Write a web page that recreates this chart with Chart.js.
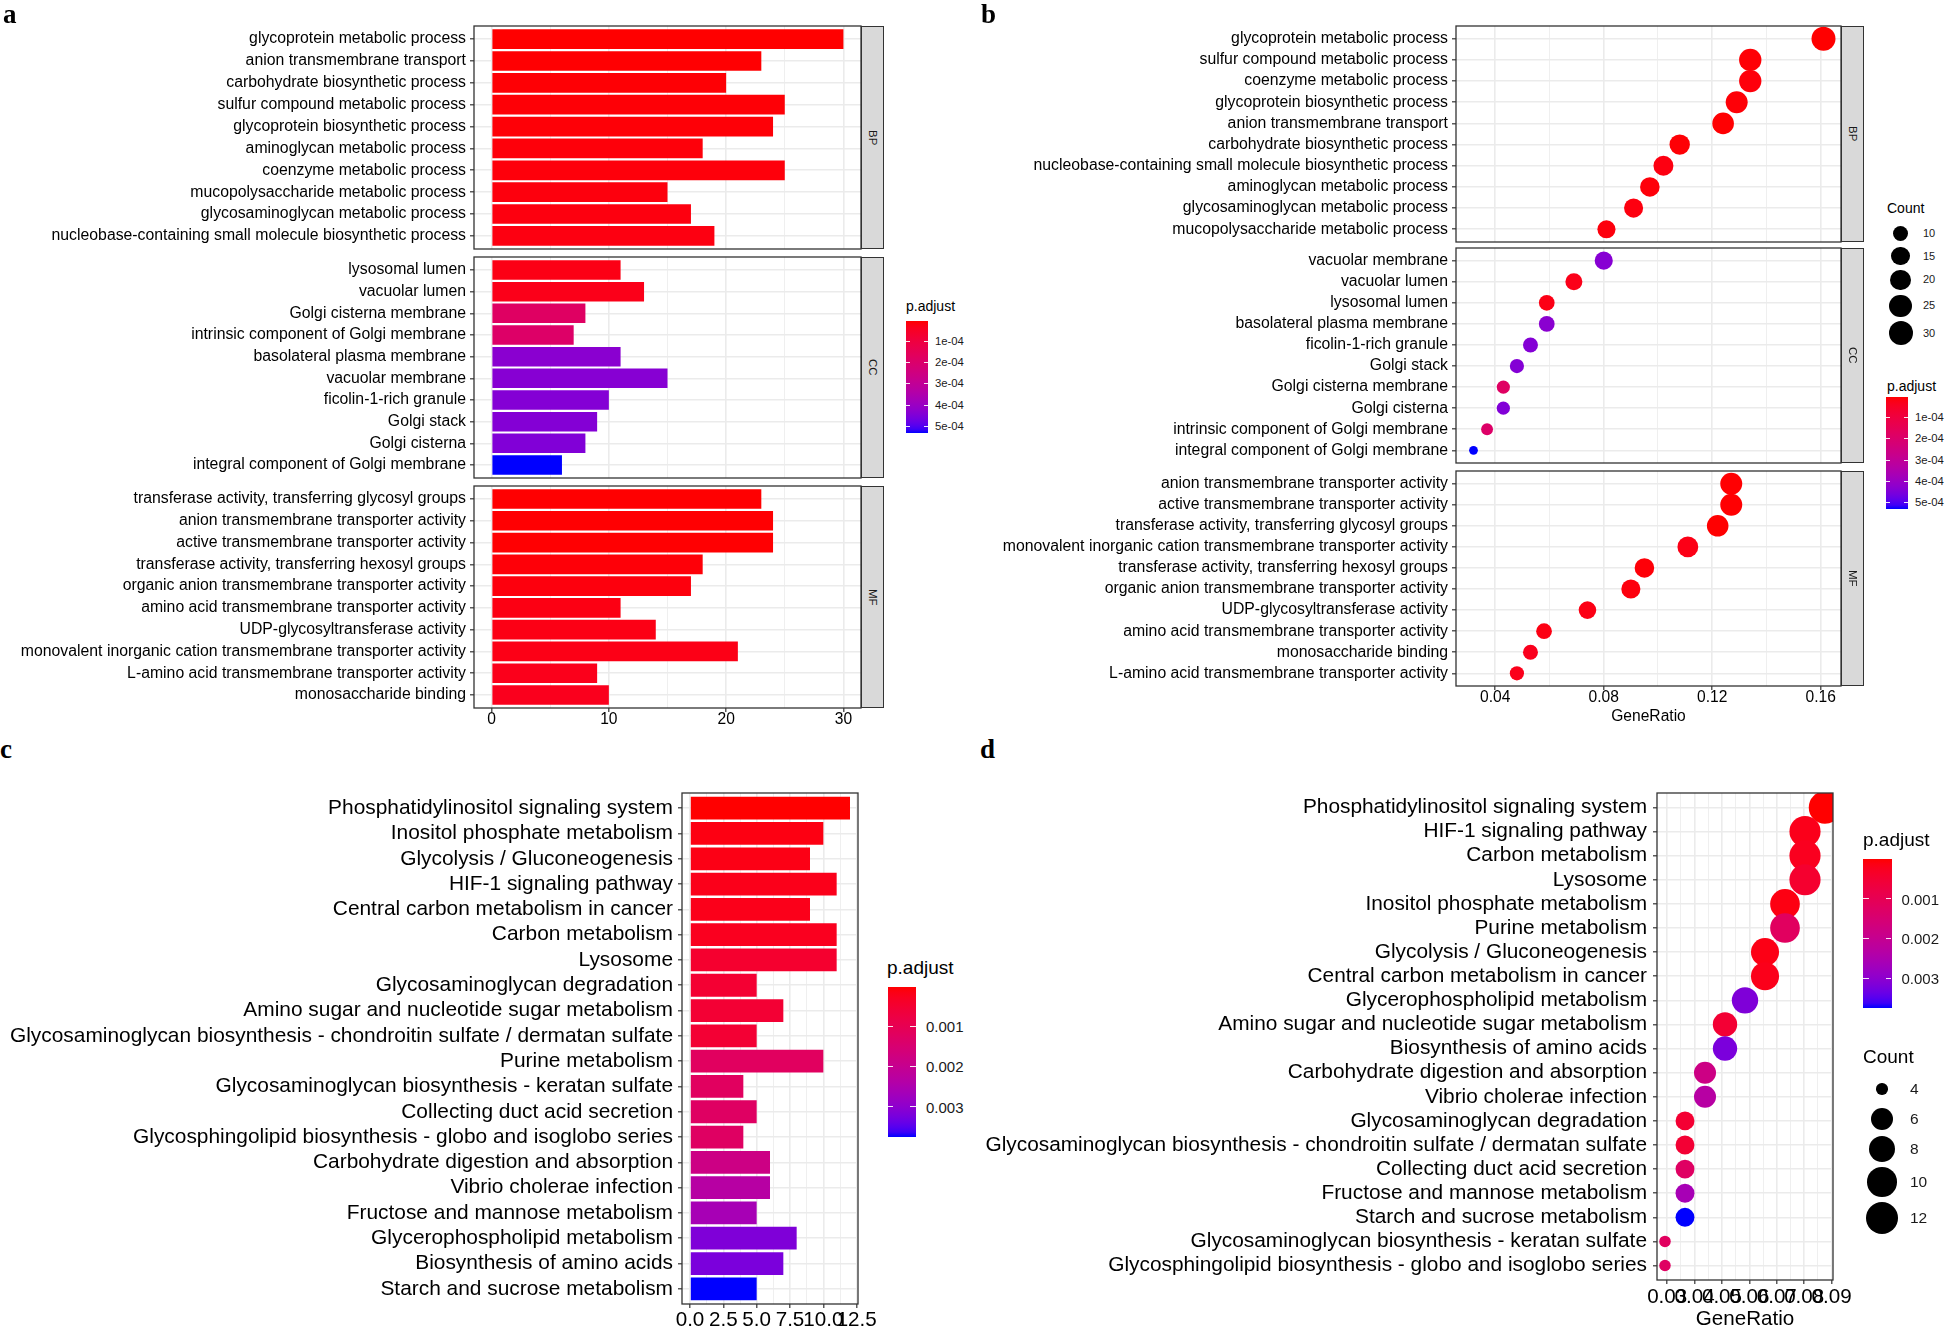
<!DOCTYPE html>
<html><head><meta charset="utf-8">
<script src="https://cdn.jsdelivr.net/npm/chart.js"></script>
<style>
html,body{margin:0;padding:0;background:#fff;width:1946px;height:1330px;overflow:hidden;}
canvas{position:absolute;}
.strip{position:absolute;background:#d9d9d9;border:1.3px solid #333;box-sizing:border-box;display:flex;align-items:center;justify-content:center;}
.strip span{writing-mode:vertical-rl;font-size:11.5px;color:#1a1a1a;font-family:"Liberation Sans",Arial,sans-serif;}
</style></head><body>
<script>
// ---------------- DATA ----------------
// Panel a: GO enrichment barplot (Count), facets BP / CC / MF
const aBPTerms = ["glycoprotein metabolic process","anion transmembrane transport","carbohydrate biosynthetic process","sulfur compound metabolic process","glycoprotein biosynthetic process","aminoglycan metabolic process","coenzyme metabolic process","mucopolysaccharide metabolic process","glycosaminoglycan metabolic process","nucleobase-containing small molecule biosynthetic process"];
const aBPCount = [30,23,20,25,24,18,25,15,17,19];
const aBPPadj  = [5e-6,7e-6,9e-6,1.0e-5,1.1e-5,1.3e-5,1.4e-5,1.6e-5,1.8e-5,2.0e-5];
const aCCTerms = ["lysosomal lumen","vacuolar lumen","Golgi cisterna membrane","intrinsic component of Golgi membrane","basolateral plasma membrane","vacuolar membrane","ficolin-1-rich granule","Golgi stack","Golgi cisterna","integral component of Golgi membrane"];
const aCCCount = [11,13,8,7,11,15,10,9,8,6];
const aCCPadj  = [2.5e-5,3.0e-5,1.8e-4,1.9e-4,4.3e-4,4.35e-4,4.4e-4,4.4e-4,4.45e-4,5.31e-4];
const aMFTerms = ["transferase activity, transferring glycosyl groups","anion transmembrane transporter activity","active transmembrane transporter activity","transferase activity, transferring hexosyl groups","organic anion transmembrane transporter activity","amino acid transmembrane transporter activity","UDP-glycosyltransferase activity","monovalent inorganic cation transmembrane transporter activity","L-amino acid transmembrane transporter activity","monosaccharide binding"];
const aMFCount = [23,24,24,18,17,11,14,21,9,10];
const aMFPadj  = [6e-6,7e-6,7e-6,1.2e-5,1.6e-5,2.2e-5,2.4e-5,2.6e-5,3.2e-5,3.6e-5];
const aXTicks = [0,10,20,30];
const aXTickLabels = ["0","10","20","30"];
const aXMinor = [5,15,25];

// Panel b: GO dotplot (GeneRatio)
const bBPTerms = ["glycoprotein metabolic process","sulfur compound metabolic process","coenzyme metabolic process","glycoprotein biosynthetic process","anion transmembrane transport","carbohydrate biosynthetic process","nucleobase-containing small molecule biosynthetic process","aminoglycan metabolic process","glycosaminoglycan metabolic process","mucopolysaccharide metabolic process"];
const bBPRatio = [0.161,0.134,0.134,0.129,0.124,0.108,0.102,0.097,0.091,0.081];
const bBPCount = [30,25,25,24,23,20,19,18,17,15];
const bBPPadj  = [5e-6,1.0e-5,1.4e-5,1.1e-5,7e-6,9e-6,2.0e-5,1.3e-5,1.8e-5,1.6e-5];
const bCCTerms = ["vacuolar membrane","vacuolar lumen","lysosomal lumen","basolateral plasma membrane","ficolin-1-rich granule","Golgi stack","Golgi cisterna membrane","Golgi cisterna","intrinsic component of Golgi membrane","integral component of Golgi membrane"];
const bCCRatio = [0.080,0.069,0.059,0.059,0.053,0.048,0.043,0.043,0.037,0.032];
const bCCCount = [15,13,11,11,10,9,8,8,7,6];
const bCCPadj  = [4.35e-4,3.0e-5,2.5e-5,4.3e-4,4.4e-4,4.4e-4,1.8e-4,4.45e-4,1.9e-4,5.31e-4];
const bMFTerms = ["anion transmembrane transporter activity","active transmembrane transporter activity","transferase activity, transferring glycosyl groups","monovalent inorganic cation transmembrane transporter activity","transferase activity, transferring hexosyl groups","organic anion transmembrane transporter activity","UDP-glycosyltransferase activity","amino acid transmembrane transporter activity","monosaccharide binding","L-amino acid transmembrane transporter activity"];
const bMFRatio = [0.127,0.127,0.122,0.111,0.095,0.090,0.074,0.058,0.053,0.048];
const bMFCount = [24,24,23,21,18,17,14,11,10,9];
const bMFPadj  = [7e-6,7e-6,6e-6,2.6e-5,1.2e-5,1.6e-5,2.4e-5,2.2e-5,3.6e-5,3.2e-5];
const bXTicks = [0.04,0.08,0.12,0.16];
const bXTickLabels = ["0.04","0.08","0.12","0.16"];
const bXMinor = [0.06,0.10,0.14];
const bCountBreaks = [10,15,20,25,30];

// Shared p.adjust legend for a and b
const abPadjTicks = [1e-4,2e-4,3e-4,4e-4,5e-4];
const abPadjLabels = ["1e-04","2e-04","3e-04","4e-04","5e-04"];

// Panel c: KEGG barplot (Count)
const cTerms = ["Phosphatidylinositol signaling system","Inositol phosphate metabolism","Glycolysis / Gluconeogenesis","HIF-1 signaling pathway","Central carbon metabolism in cancer","Carbon metabolism","Lysosome","Glycosaminoglycan degradation","Amino sugar and nucleotide sugar metabolism","Glycosaminoglycan biosynthesis - chondroitin sulfate / dermatan sulfate","Purine metabolism","Glycosaminoglycan biosynthesis - keratan sulfate","Collecting duct acid secretion","Glycosphingolipid biosynthesis - globo and isoglobo series","Carbohydrate digestion and absorption","Vibrio cholerae infection","Fructose and mannose metabolism","Glycerophospholipid metabolism","Biosynthesis of amino acids","Starch and sucrose metabolism"];
const cCount = [12,10,9,11,9,11,11,5,7,5,10,4,5,4,6,6,5,8,7,5];
const cPadj  = [1e-5,1.2e-4,1.5e-4,2.0e-4,2.0e-4,2.5e-4,4.5e-4,5.0e-4,5.2e-4,5.2e-4,1.2e-3,1.2e-3,1.25e-3,1.25e-3,1.8e-3,2.3e-3,2.6e-3,3.15e-3,3.2e-3,3.74e-3];
const cXTicks = [0,2.5,5,7.5,10,12.5];
const cXTickLabels = ["0.0","2.5","5.0","7.5","10.0","12.5"];
const cXMinor = [1.25,3.75,6.25,8.75,11.25];

// Panel d: KEGG dotplot (GeneRatio)
const dTerms = ["Phosphatidylinositol signaling system","HIF-1 signaling pathway","Carbon metabolism","Lysosome","Inositol phosphate metabolism","Purine metabolism","Glycolysis / Gluconeogenesis","Central carbon metabolism in cancer","Glycerophospholipid metabolism","Amino sugar and nucleotide sugar metabolism","Biosynthesis of amino acids","Carbohydrate digestion and absorption","Vibrio cholerae infection","Glycosaminoglycan degradation","Glycosaminoglycan biosynthesis - chondroitin sulfate / dermatan sulfate","Collecting duct acid secretion","Fructose and mannose metabolism","Starch and sucrose metabolism","Glycosaminoglycan biosynthesis - keratan sulfate","Glycosphingolipid biosynthesis - globo and isoglobo series"];
const dRatio = [0.0876,0.0803,0.0803,0.0803,0.0730,0.0730,0.0657,0.0657,0.0584,0.0511,0.0511,0.0438,0.0438,0.0365,0.0365,0.0365,0.0365,0.0365,0.0292,0.0292];
const dCount = [12,11,11,11,10,10,9,9,8,7,7,6,6,5,5,5,5,5,4,4];
const dPadj  = [1e-5,2.0e-4,2.5e-4,4.5e-4,1.2e-4,1.2e-3,1.5e-4,2.0e-4,3.15e-3,5.2e-4,3.2e-3,1.8e-3,2.3e-3,5.0e-4,5.2e-4,1.25e-3,2.6e-3,3.74e-3,1.2e-3,1.25e-3];
const dXTicks = [0.03,0.04,0.05,0.06,0.07,0.08,0.09];
const dXTickLabels = ["0.03","0.04","0.05","0.06","0.07","0.08","0.09"];
const dXMinor = [0.035,0.045,0.055,0.065,0.075,0.085];
const dCountBreaks = [4,6,8,10,12];

const cdPadjTicks = [0.001,0.002,0.003];
const cdPadjLabels = ["0.001","0.002","0.003"];

// ---------------- HELPERS ----------------
const FONT = '"Liberation Sans", Arial, Helvetica, sans-serif';
function s2l(c){c/=255;return c<=0.04045?c/12.92:Math.pow((c+0.055)/1.055,2.4);}
function l2s(c){c=Math.max(0,Math.min(1,c));return Math.round(255*(c<=0.0031308?12.92*c:1.055*Math.pow(c,1/2.4)-0.055));}
function rgbToLab(rgb){
  const [R,G,B]=rgb.map(s2l);
  const X=(0.4124*R+0.3576*G+0.1805*B)/0.95047, Y=0.2126*R+0.7152*G+0.0722*B, Z=(0.0193*R+0.1192*G+0.9505*B)/1.08883;
  const f=t=>t>0.008856?Math.cbrt(t):7.787*t+16/116;
  return [116*f(Y)-16,500*(f(X)-f(Y)),200*(f(Y)-f(Z))];
}
function labToRgb([L,a,b]){
  const fy=(L+16)/116, fx=fy+a/500, fz=fy-b/200;
  const fi=t=>{const t3=t*t*t;return t3>0.008856?t3:(t-16/116)/7.787;};
  const X=0.95047*fi(fx), Y=fi(fy), Z=1.08883*fi(fz);
  const R=3.2406*X-1.5372*Y-0.4986*Z, G=-0.9689*X+1.8758*Y+0.0415*Z, B=0.0557*X-0.2040*Y+1.0570*Z;
  return `rgb(${l2s(R)},${l2s(G)},${l2s(B)})`;
}
const LAB_LOW = rgbToLab([255,0,0]), LAB_HIGH = rgbToLab([0,0,255]);
function gradColor(t){t=Math.max(0,Math.min(1,t));return labToRgb([0,1,2].map(k=>LAB_LOW[k]+(LAB_HIGH[k]-LAB_LOW[k])*t));}
function padjColors(ps, lo, hi){return ps.map(p=>gradColor((p-lo)/(hi-lo)));}
function sizeMap(counts, cmin, cmax, dmin, dmax){return counts.map(c=>(dmin+(dmax-dmin)*Math.sqrt((c-cmin)/(cmax-cmin)))/2);}
function expand(lo, hi){const s=hi-lo;return [lo-0.05*s, hi+0.05*s];}

function el(css, text){const d=document.createElement('div');d.style.cssText='position:absolute;'+css;if(text!==undefined)d.textContent=text;document.body.appendChild(d);return d;}
function txt(str,x,baseline,fs,color){return el(`left:${x}px;top:${baseline-0.8465*fs}px;font-size:${fs}px;line-height:1;white-space:nowrap;font-family:${FONT};color:${color||'#000'};`,str);}
function letter(str,x,baseline){return el(`left:${x}px;top:${baseline-0.8375*27}px;font-size:27px;line-height:1;font-weight:bold;font-family:"Liberation Serif","Times New Roman",serif;color:#000;`,str);}
function strip(label,x,t,b){const d=el(`left:${x}px;top:${t}px;width:23px;height:${b-t}px;`);d.className='strip';const s=document.createElement('span');s.textContent=label;d.appendChild(s);}
function colorbar(x,y,w,h,lo,hi,ticks,labels,fs,gap){
  const stops=[];for(let k=0;k<=30;k++)stops.push(`${gradColor(k/30)} ${(k/30*100).toFixed(2)}%`);
  el(`left:${x}px;top:${y}px;width:${w}px;height:${h}px;background:linear-gradient(to bottom,${stops.join(',')});`);
  ticks.forEach((v,i)=>{const ty=y+(v-lo)/(hi-lo)*h;
    el(`left:${x}px;top:${ty-0.5}px;width:${w/5}px;height:1px;background:rgba(255,255,255,0.9);`);
    el(`left:${x+w-w/5}px;top:${ty-0.5}px;width:${w/5}px;height:1px;background:rgba(255,255,255,0.9);`);
    txt(labels[i],x+w+gap,ty+0.358*fs,fs,'#1a1a1a');});
}
function sizeLegend(breaks,radii,cx,firstC,minH,extra,labelX,fs){
  const h=radii.map(r=>Math.max(minH,2*r+extra));let c=firstC;
  breaks.forEach((v,i)=>{ if(i>0)c+= (h[i-1]+h[i])/2; const r=radii[i];
    el(`left:${cx-r}px;top:${c-r}px;width:${2*r}px;height:${2*r}px;border-radius:50%;background:#000;`);
    txt(String(v),labelX,c+0.358*fs,fs,'#1a1a1a');});
}

const borderPlugin={id:'panelBorder',afterDatasetsDraw(chart){const {ctx,chartArea:a}=chart;ctx.save();ctx.strokeStyle='#333';ctx.lineWidth=1.3;ctx.strokeRect(a.left,a.top,a.right-a.left,a.bottom-a.top);ctx.restore();}};

function makePanel(cfg){
  const cv=document.createElement('canvas');cv.width=cfg.cw;cv.height=cfg.ch;
  cv.style.left=cfg.cx+'px';cv.style.top=cfg.cy+'px';document.body.appendChild(cv);
  const n=cfg.terms.length, isBar=cfg.kind==='bar';
  const data=cfg.terms.map((_,i)=>isBar?{x:cfg.vals[i],y:i}:{x:cfg.vals[i],y:i,r:cfg.radii[i]});
  const near=(a,b)=>Math.abs(a-b)<1e-9;
  const majorIdx=v=>cfg.major.findIndex(m=>near(m,v));
  const allX=cfg.major.concat(cfg.minor);
  const isMaj=c=>c&&c.tick?majorIdx(c.tick.value)>=0:false;
  return new Chart(cv,{
    type:isBar?'bar':'bubble',
    data:{datasets:[{data,backgroundColor:cfg.colors,borderWidth:0,clip:0,barPercentage:0.9,categoryPercentage:1}]},
    options:{
      indexAxis:isBar?'y':'x',responsive:false,maintainAspectRatio:false,animation:false,devicePixelRatio:1,events:[],
      layout:{autoPadding:false,padding:{left:0,top:cfg.t-cfg.cy,right:cfg.cx+cfg.cw-cfg.r,bottom:0}},
      plugins:{legend:{display:false},tooltip:{enabled:false},title:{display:false}},
      scales:{
        x:{type:'linear',position:'bottom',min:cfg.xRange[0],max:cfg.xRange[1],offset:false,
          afterBuildTicks:s=>{s.ticks=allX.map(v=>({value:v}));},
          afterFit:s=>{s.height=cfg.cy+cfg.ch-cfg.b;s.paddingLeft=0;s.paddingRight=0;},
          border:{display:false},
          grid:{color:'#ebebeb',lineWidth:c=>isMaj(c)?1.6:0.8,drawTicks:!!cfg.showX,tickLength:4,tickWidth:1.2,tickColor:c=>isMaj(c)?'#333':'rgba(0,0,0,0)'},
          ticks:{display:!!cfg.showX,autoSkip:false,maxRotation:0,minRotation:0,padding:cfg.xPad||0,color:'#000',font:{family:FONT,size:cfg.xfs||cfg.fs,lineHeight:1},
            callback:v=>{const k=majorIdx(v);return k>=0?cfg.majorLabels[k]:'';}},
          title:cfg.xTitle?{display:true,text:cfg.xTitle,color:'#000',font:{family:FONT,size:cfg.xfs||cfg.fs,lineHeight:1},padding:0}:{display:false}
        },
        y:{type:'linear',position:'left',reverse:true,min:-0.6,max:n-0.4,offset:false,
          afterBuildTicks:s=>{s.ticks=cfg.terms.map((_,i)=>({value:i}));},
          afterFit:s=>{s.width=cfg.l-cfg.cx;s.paddingTop=0;s.paddingBottom=0;},
          border:{display:false},
          grid:{offset:false,color:'#ebebeb',lineWidth:1.6,drawTicks:true,tickLength:4,tickWidth:1.2,tickColor:'#333'},
          ticks:{autoSkip:false,padding:cfg.yPad,color:'#000',font:{family:FONT,size:cfg.fs,lineHeight:1.1},callback:v=>cfg.terms[v]}
        }
      }
    },
    plugins:[borderPlugin]
  });
}

// ---------------- BUILD ----------------
const abAllP=[...aBPPadj,...aCCPadj,...aMFPadj];
const abLo=Math.min(...abAllP), abHi=Math.max(...abAllP);
const cdLo=Math.min(...cPadj), cdHi=Math.max(...cPadj);

// Panel a
const aRange=expand(0,Math.max(...aBPCount,...aCCCount,...aMFCount));
const aCommon={kind:'bar',cx:0,cw:880,l:474,r:861,xRange:aRange,major:aXTicks,majorLabels:aXTickLabels,minor:aXMinor,fs:15.8,xfs:15.6,yPad:4};
makePanel({...aCommon,terms:aBPTerms,vals:aBPCount,colors:padjColors(aBPPadj,abLo,abHi),t:26,b:249,cy:20,ch:231});
makePanel({...aCommon,terms:aCCTerms,vals:aCCCount,colors:padjColors(aCCPadj,abLo,abHi),t:257,b:478,cy:251,ch:229});
makePanel({...aCommon,terms:aMFTerms,vals:aMFCount,colors:padjColors(aMFPadj,abLo,abHi),t:486,b:708,cy:480,ch:250,showX:true,xPad:0});
strip('BP',861,26,249);strip('CC',861,257,478);strip('MF',861,486,708);
txt('p.adjust',906,310.5,14);
colorbar(906,321,22,112,abLo,abHi,abPadjTicks,abPadjLabels,11.3,7);

// Panel b
const bAllR=[...bBPRatio,...bCCRatio,...bMFRatio];
const bAllC=[...bBPCount,...bCCCount,...bMFCount];
const bRange=expand(Math.min(...bAllR),Math.max(...bAllR));
const bCmin=Math.min(...bAllC), bCmax=Math.max(...bAllC);
const bSize=c=>sizeMap(c,bCmin,bCmax,8.8,24);
const bCommon={kind:'dot',cx:980,cw:880,l:1456,r:1841,xRange:bRange,major:bXTicks,majorLabels:bXTickLabels,minor:bXMinor,fs:15.8,xfs:15.6,yPad:4};
makePanel({...bCommon,terms:bBPTerms,vals:bBPRatio,radii:bSize(bBPCount),colors:padjColors(bBPPadj,abLo,abHi),t:26,b:242,cy:20,ch:224});
makePanel({...bCommon,terms:bCCTerms,vals:bCCRatio,radii:bSize(bCCCount),colors:padjColors(bCCPadj,abLo,abHi),t:248,b:463,cy:244,ch:221});
makePanel({...bCommon,terms:bMFTerms,vals:bMFRatio,radii:bSize(bMFCount),colors:padjColors(bMFPadj,abLo,abHi),t:471,b:686,cy:465,ch:259,showX:true,xPad:0,xTitle:'GeneRatio'});
strip('BP',1841,26,242);strip('CC',1841,248,463);strip('MF',1841,471,686);
txt('Count',1887,213.3,14);
sizeLegend(bCountBreaks,bSize(bCountBreaks),1900.5,233.3,22.7,4.5,1923,11);
txt('p.adjust',1887,390.4,14);
colorbar(1886,397.3,22,112,abLo,abHi,abPadjTicks,abPadjLabels,11.3,7);

// Panel c
const cRange=expand(0,Math.max(...cCount));
makePanel({kind:'bar',cx:0,cw:885,cy:787,ch:543,l:682,r:858,t:793,b:1304,xRange:cRange,major:cXTicks,majorLabels:cXTickLabels,minor:cXMinor,fs:20.9,xfs:20.6,yPad:5,
  terms:cTerms,vals:cCount,colors:padjColors(cPadj,cdLo,cdHi),showX:true,xPad:1.75});
txt('p.adjust',887,974.3,19);
colorbar(887.5,986.7,28.5,150,cdLo,cdHi,cdPadjTicks,cdPadjLabels,15,10);

// Panel d
const dRange=expand(Math.min(...dRatio),Math.max(...dRatio));
const dCmin=Math.min(...dCount), dCmax=Math.max(...dCount);
const dSize=c=>sizeMap(c,dCmin,dCmax,11.5,32.5);
makePanel({kind:'dot',cx:980,cw:966,cy:787,ch:543,l:1657,r:1833,t:793,b:1280,xRange:dRange,major:dXTicks,majorLabels:dXTickLabels,minor:dXMinor,fs:20.85,xfs:20.6,yPad:6,
  terms:dTerms,vals:dRatio,radii:dSize(dCount),colors:padjColors(dPadj,cdLo,cdHi),showX:true,xPad:2.75,xTitle:'GeneRatio'});
txt('p.adjust',1863,846,19);
colorbar(1863,859.3,28.5,149,cdLo,cdHi,cdPadjTicks,cdPadjLabels,15,10);
txt('Count',1863,1063.3,19);
sizeLegend(dCountBreaks,dSize(dCountBreaks),1882,1089,29.5,5,1910,15.5);

// Panel letters
letter('a',3,23.3);letter('b',981,23.3);letter('c',0,758.3);letter('d',980,758.3);
</script>
</body></html>
